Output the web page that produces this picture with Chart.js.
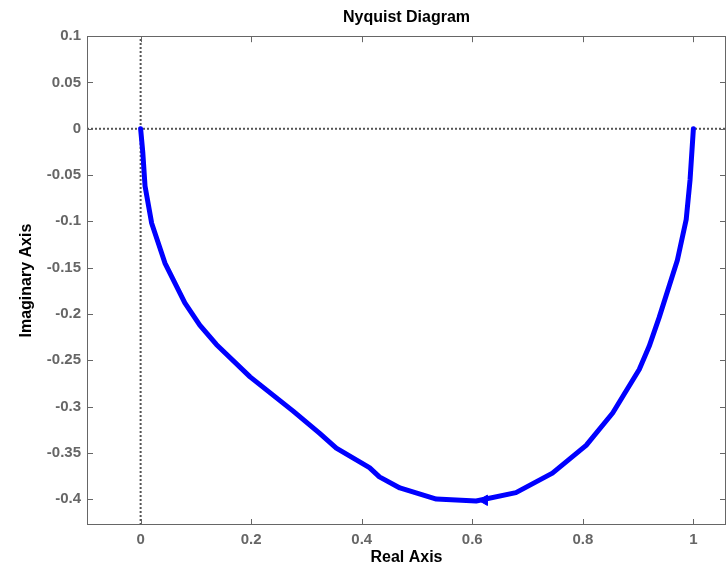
<!DOCTYPE html>
<html>
<head>
<meta charset="utf-8">
<script src="https://cdn.jsdelivr.net/npm/chart.js@4/dist/chart.umd.min.js"></script>
<style>
  body { margin: 0; background: #fff; }
  #wrap { width: 728px; height: 569px; }
</style>
</head>
<body>
<div id="wrap"><canvas id="nyq" width="728" height="569"></canvas></div>
<script>
// Nyquist curve (from w=0 at (1,0) to w=inf at (0,0))
const realPart = [1.0, 0.994, 0.987, 0.971, 0.938, 0.920, 0.902, 0.854, 0.806, 0.745,
                  0.679, 0.607, 0.535, 0.469, 0.432, 0.414, 0.354, 0.324, 0.276, 0.198,
                  0.137, 0.107, 0.080, 0.044, 0.020, 0.008, 0.004, 0.0];
const imagPart = [0.0, -0.055, -0.098, -0.142, -0.204, -0.235, -0.260, -0.307, -0.342, -0.372,
                  -0.393, -0.402, -0.400, -0.388, -0.376, -0.366, -0.345, -0.329, -0.305, -0.268,
                  -0.233, -0.212, -0.188, -0.145, -0.102, -0.062, -0.026, 0.0];
// arrow head on the curve
const arrowReal = [0.622];
const arrowImag = [-0.4013];

const xMin = -0.097, xMax = 1.059, xStep = 0.2;
const yMin = -0.428, yMax = 0.1, yStep = 0.05;

const curve = realPart.map((r, i) => ({x: r, y: imagPart[i]}));
const arrow = arrowReal.map((r, i) => ({x: r, y: arrowImag[i]}));

const tickFont = {family: 'Liberation Sans, Arial, sans-serif', size: 15, weight: 'bold'};
const titleFont = {family: 'Liberation Sans, Arial, sans-serif', size: 16, weight: 'bold'};

const fmt = v => String(Number(v.toFixed(2)));   // 0.10 -> 0.1, -0.30 -> -0.3

// box round the axes with inward ticks on all four sides
const frame = {
  id: 'frame',
  afterDatasetsDraw(chart) {
    const {ctx, chartArea: a, scales} = chart;
    const len = 6;
    ctx.save();
    ctx.strokeStyle = '#666';
    ctx.lineWidth = 1;
    ctx.beginPath();
    scales.x.ticks.forEach(t => {
      const px = Math.round(scales.x.getPixelForValue(t.value)) + 0.5;
      ctx.moveTo(px, a.bottom); ctx.lineTo(px, a.bottom - len);
      ctx.moveTo(px, a.top); ctx.lineTo(px, a.top + len);
    });
    scales.y.ticks.forEach(t => {
      const py = Math.round(scales.y.getPixelForValue(t.value)) + 0.5;
      ctx.moveTo(a.left, py); ctx.lineTo(a.left + len, py);
      ctx.moveTo(a.right, py); ctx.lineTo(a.right - len, py);
    });
    ctx.stroke();
    ctx.strokeRect(Math.round(a.left) + 0.5, Math.round(a.top) + 0.5,
                   Math.round(a.width) - 1, Math.round(a.height) - 1);
    ctx.restore();
  }
};

new Chart(document.getElementById('nyq'), {
  type: 'scatter',
  data: {
    datasets: [
      {
        data: curve,
        showLine: true,
        borderColor: '#0000ff',
        borderWidth: 5,
        borderCapStyle: 'round',
        borderJoinStyle: 'round',
        tension: 0,
        pointRadius: 0
      },
      {
        data: arrow,
        showLine: false,
        pointStyle: 'triangle',
        rotation: 270,
        pointRadius: 6,
        backgroundColor: '#0000ff',
        borderColor: '#0000ff',
        borderWidth: 1
      },
      {
        data: [{x: xMin, y: 0}, {x: xMax, y: 0}],
        showLine: true,
        borderColor: '#555',
        borderWidth: 2,
        borderDash: [2, 2],
        pointRadius: 0
      },
      {
        data: [{x: 0, y: yMin}, {x: 0, y: yMax}],
        showLine: true,
        borderColor: '#555',
        borderWidth: 2,
        borderDash: [2, 2],
        pointRadius: 0
      }
    ]
  },
  options: {
    responsive: false,
    animation: false,
    layout: {autoPadding: false, padding: {left: 0, right: 2, top: 0, bottom: 0}},
    plugins: {
      legend: {display: false},
      tooltip: {enabled: false},
      title: {
        display: true,
        text: 'Nyquist Diagram',
        color: '#000',
        font: titleFont,
        fullSize: false,
        padding: {top: 8, bottom: 9}
      }
    },
    scales: {
      x: {
        type: 'linear',
        min: xMin, max: xMax,
        afterFit: s => { s.height = 44; s.paddingLeft = 0; s.paddingRight = 0; },
        grid: {display: false},
        border: {display: false},
        ticks: {stepSize: xStep, includeBounds: false, color: '#666', font: tickFont, padding: -2,
                callback: fmt},
        title: {display: true, text: 'Real Axis', color: '#000', font: titleFont, padding: {top: 0, bottom: 2}}
      },
      y: {
        type: 'linear',
        min: yMin, max: yMax,
        afterFit: s => { s.width = 87; s.paddingTop = 0; s.paddingBottom = 0; },
        grid: {display: false},
        border: {display: false},
        ticks: {stepSize: yStep, includeBounds: false, color: '#666', font: tickFont, padding: -2,
                callback: fmt},
        title: {display: true, text: 'Imaginary Axis', color: '#000', font: titleFont, padding: {top: 17, bottom: 0}}
      }
    }
  },
  plugins: [frame]
});
</script>
</body>
</html>
